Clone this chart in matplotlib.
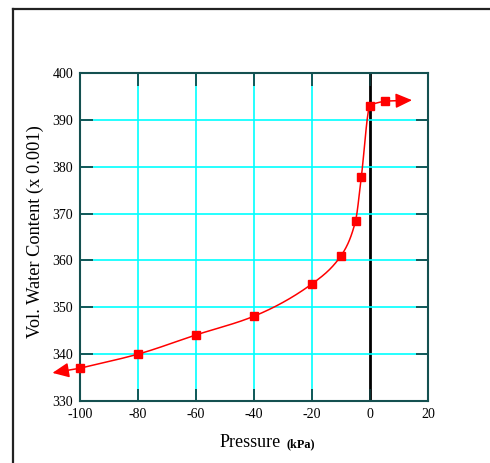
import matplotlib
matplotlib.use('Agg')
import matplotlib.pyplot as plt
import numpy as np
from matplotlib.lines import Line2D

pressure = [-100, -80, -60, -40, -20, -10, -5, -3, 0, 5]
water = [337, 340, 344.1, 348.1, 355, 361, 368.4, 377.8, 393, 394]
x_ticks = [-100, -80, -60, -40, -20, 0, 20]
y_ticks = [330, 340, 350, 360, 370, 380, 390, 400]
# where the end arrows point to
left_tip = (-109.5, 336)
right_tip = (14.5, 394.2)

plt.rcParams['font.family'] = ['Liberation Serif', 'DejaVu Serif']


def pchip(x, y, xs):
    # monotone cubic through the points, only for drawing the smooth curve
    x = np.asarray(x, float)
    y = np.asarray(y, float)
    h = np.diff(x)
    d = np.diff(y) / h
    m = np.zeros_like(y)
    for k in range(1, len(x) - 1):
        if d[k - 1] * d[k] > 0:
            w1 = 2 * h[k] + h[k - 1]
            w2 = h[k] + 2 * h[k - 1]
            m[k] = (w1 + w2) / (w1 / d[k - 1] + w2 / d[k])
    m[0] = d[0]
    m[-1] = d[-1]
    out = np.empty_like(xs)
    for i, xv in enumerate(xs):
        k = min(np.searchsorted(x, xv, side='right') - 1, len(x) - 2)
        k = max(k, 0)
        t = (xv - x[k]) / h[k]
        h00 = 2 * t**3 - 3 * t**2 + 1
        h10 = t**3 - 2 * t**2 + t
        h01 = -2 * t**3 + 3 * t**2
        h11 = t**3 - t**2
        out[i] = h00 * y[k] + h10 * h[k] * m[k] + h01 * y[k + 1] + h11 * h[k] * m[k + 1]
    return out


fig = plt.figure(figsize=(4.9, 4.63), dpi=100)
ax = fig.add_axes([80 / 490, 1 - 401 / 463, 348 / 490, 328 / 463])

ax.set_xlim(-100, 20)
ax.set_ylim(330, 400)
ax.set_xticks(x_ticks)
ax.set_yticks(y_ticks)
ax.set_xticklabels([str(v) for v in x_ticks])
ax.grid(True, color='#00ffff', lw=1.2)
for gl, v in zip(ax.get_xgridlines(), x_ticks):
    if v == 0:
        gl.set_color('black')
        gl.set_linewidth(2)
ax.set_axisbelow(True)

ax.tick_params(direction='in', length=9, width=1.2, color='#0e3c3c',
               top=True, right=True, labelsize=10, pad=5)
for s in ax.spines.values():
    s.set_color('#145050')
    s.set_linewidth(1.5)

xs = np.linspace(pressure[0], pressure[-1], 600)
ax.plot(xs, pchip(pressure, water, xs), color='red', lw=1.1, zorder=3)
ax.plot(pressure, water, 's', color='red', ms=5.6, zorder=4, clip_on=False)

arrow = dict(arrowstyle='-|>,head_length=1.0,head_width=0.45', color='red',
             lw=1.1, shrinkA=0, shrinkB=0)
ax.annotate('', xy=left_tip, xytext=(pressure[0], water[0]),
            arrowprops=arrow, annotation_clip=False, zorder=5)
ax.annotate('', xy=right_tip, xytext=(pressure[-1], water[-1]),
            arrowprops=arrow, annotation_clip=False, zorder=5)

fig.text(281 / 490, 1 - 447 / 463, 'Pressure', ha='right', va='baseline', fontsize=13)
fig.text(286 / 490, 1 - 447 / 463, '(kPa)', ha='left', va='baseline',
         fontsize=8.8, fontweight='bold')
fig.text(35 / 490, 1 - 232 / 463, 'Vol. Water Content (x 0.001)', rotation=90,
         ha='center', va='center', fontsize=13.2)

# frame around the figure (left and top edges)
fig.add_artist(Line2D([13 / 490, 13 / 490], [0, 1 - 9 / 463], color='#222222',
                      lw=1.6, transform=fig.transFigure))
fig.add_artist(Line2D([13 / 490, 1], [1 - 9 / 463, 1 - 9 / 463], color='#222222',
                      lw=1.6, transform=fig.transFigure))

fig.savefig('out.png', dpi=100)
